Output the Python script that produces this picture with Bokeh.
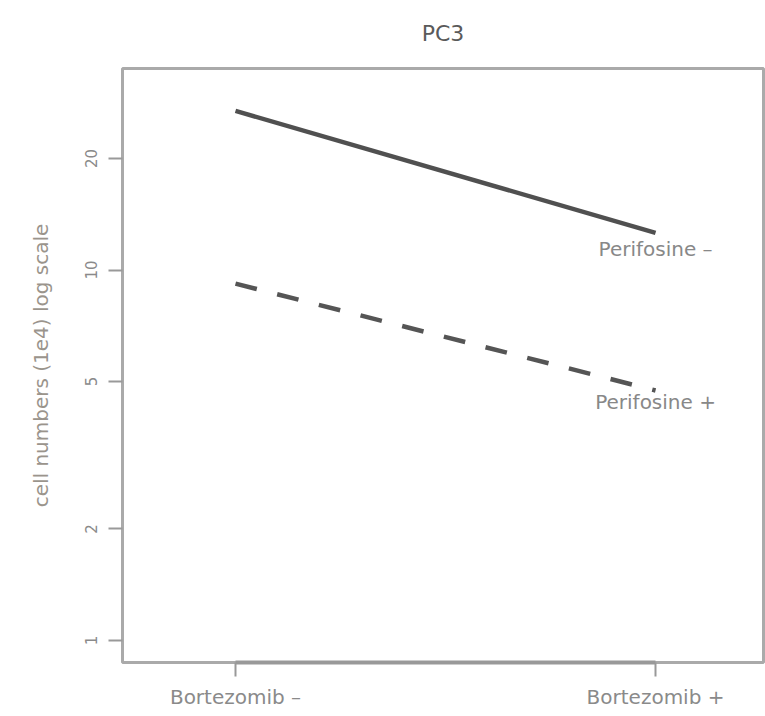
from bokeh.plotting import figure
from bokeh.models import Range1d, FixedTicker
from bokeh.core.properties import value
from bokeh.embed import file_html
from bokeh.resources import INLINE

# ---- data ----
categories = ["Bortezomib –", "Bortezomib +"]
x_pos = [1, 2]
perifosine_minus = [26.9, 12.6]
perifosine_plus = [9.19, 4.73]
series_labels = ["Perifosine –", "Perifosine +"]
y_ticks = [1, 2, 5, 10, 20]
title_text = "PC3"
y_label = "cell numbers (1e4) log scale"

FONT = "DejaVu Sans"

p = figure(width=765, height=716, output_backend="svg", toolbar_location=None,
           y_axis_type="log",
           x_range=Range1d(0.731, 2.257), y_range=Range1d(0.872, 35.0),
           min_border_left=122, min_border_right=2, min_border_top=68,
           min_border_bottom=54)
p.background_fill_color = "white"
p.border_fill_color = "white"
p.outline_line_color = "#aaaaaa"
p.outline_line_width = 3
p.xgrid.visible = False
p.ygrid.visible = False

# title
p.title.text = title_text
p.title.align = "center"
p.title.vertical_align = "top"
p.title.text_font = FONT
p.title.text_font_size = "22px"
p.title.text_font_style = "normal"
p.title.text_color = "#5a5a5a"
p.title.standoff = 41

# x axis
xa = p.xaxis[0]
xa.ticker = FixedTicker(ticks=x_pos, minor_ticks=[])
xa.major_label_overrides = {x: c for x, c in zip(x_pos, categories)}
xa.bounds = (x_pos[0], x_pos[-1])
xa.axis_line_color = "#999999"
xa.axis_line_width = 4
xa.major_tick_line_color = "#999999"
xa.major_tick_line_width = 2
xa.major_tick_out = 14
xa.major_tick_in = 0
xa.major_label_standoff = 8
xa.major_label_text_font = FONT
xa.major_label_text_font_size = "20px"
xa.major_label_text_color = "#8a8a8a"

# y axis
ya = p.yaxis[0]
ya.ticker = FixedTicker(ticks=y_ticks, minor_ticks=[])
ya.major_label_overrides = {t: str(t) for t in y_ticks}
ya.bounds = (y_ticks[0], y_ticks[-1])
ya.axis_line_color = "#aaaaaa"
ya.axis_line_width = 3
ya.major_tick_line_color = "#999999"
ya.major_tick_line_width = 2
ya.major_tick_out = 14
ya.major_tick_in = 0
ya.major_label_orientation = "vertical"
ya.major_label_standoff = 11
ya.major_label_text_font = FONT
ya.major_label_text_font_size = "15px"
ya.major_label_text_color = "#8a8a8a"
ya.axis_label = y_label
ya.axis_label_text_font = FONT
ya.axis_label_text_font_size = "20px"
ya.axis_label_text_font_style = "normal"
ya.axis_label_text_color = "#9a948c"
ya.axis_label_standoff = 30

# lines
p.line(x_pos, perifosine_minus, line_color="#505050", line_width=4.5)
p.line(x_pos, perifosine_plus, line_color="#555555", line_width=4.5,
       line_dash="22 21")

# labels at line ends
p.text(x=[x_pos[1]], y=[perifosine_minus[1]], text=[series_labels[0]],
       text_font=value(FONT), text_font_size="20px", text_color="#888888",
       text_align="center", text_baseline="middle", y_offset=16)
p.text(x=[x_pos[1]], y=[perifosine_plus[1]], text=[series_labels[1]],
       text_font=value(FONT), text_font_size="20px", text_color="#888888",
       text_align="center", text_baseline="middle", y_offset=12)

open("out.html", "w").write(file_html(p, INLINE))
